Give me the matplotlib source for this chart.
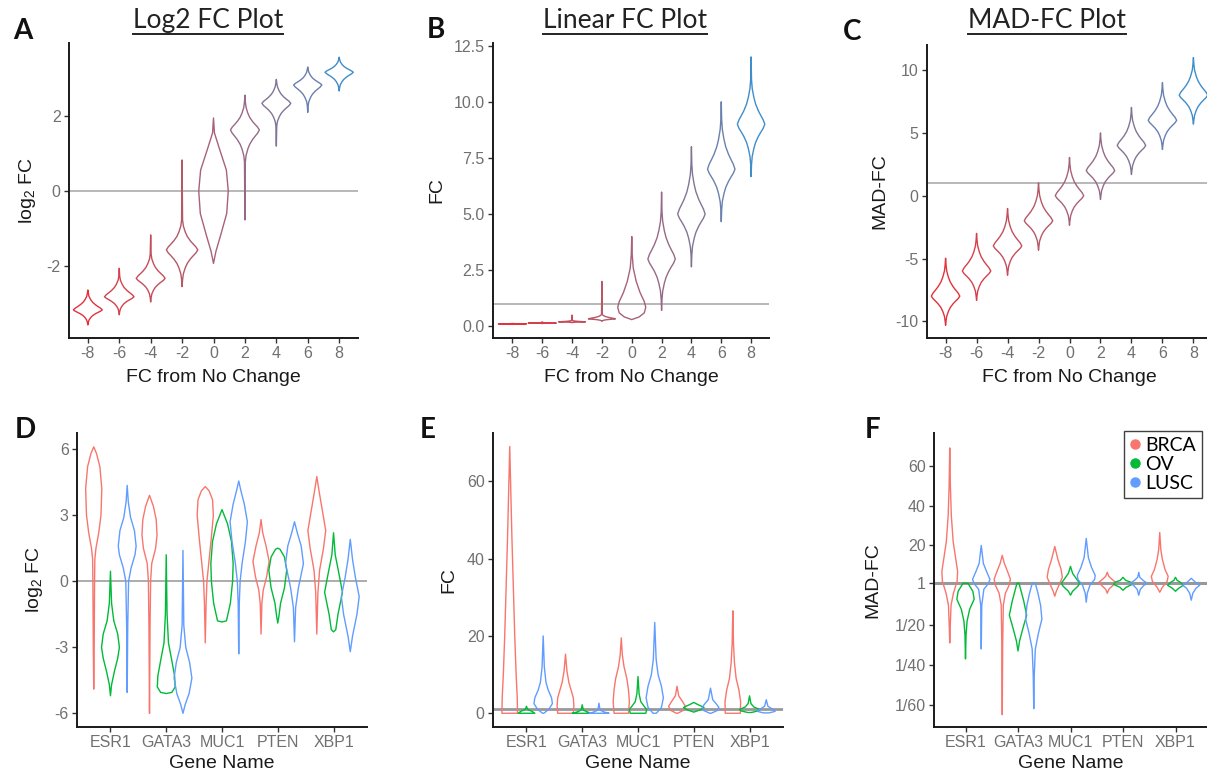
import numpy as np
import matplotlib
matplotlib.use('Agg')
import matplotlib.pyplot as plt
from matplotlib.lines import Line2D

plt.rcParams['font.family'] = ['Liberation Sans', 'DejaVu Sans']
plt.rcParams['mathtext.default'] = 'regular'
plt.rcParams['axes.unicode_minus'] = False

W, H = 1207, 775

# ---- data ----
FC_LABELS = ['-8', '-6', '-4', '-2', '0', '2', '4', '6', '8']
TOP_COLORS = ['#E2323C', '#D4414C', '#C54D5B', '#B55868', '#A8617A',
              '#966A86', '#837496', '#6A80AE', '#3F8DCA']

GENES = ['ESR1', 'GATA3', 'MUC1', 'PTEN', 'XBP1']
CANCERS = ['BRCA', 'OV', 'LUSC']
CANCER_COLORS = ['#F8766D', '#00BA38', '#619CFF']

# star shaped violins (centre, lower tip, upper tip, lower reach, upper reach, half width)
LOG2_STARS = [(-3.17, -3.57, -2.64, 0.34, 0.45, 0.46),
              (-2.82, -3.30, -2.06, 0.40, 0.55, 0.47),
              (-2.33, -2.96, -1.17, 0.52, 0.65, 0.46),
              (-1.57, -2.55, 0.83, 0.80, 0.80, 0.50),
              None,
              (1.63, -0.77, 2.56, 0.85, 0.75, 0.46),
              (2.34, 1.20, 2.98, 0.60, 0.55, 0.46),
              (2.83, 2.10, 3.31, 0.55, 0.42, 0.45),
              (3.17, 2.67, 3.57, 0.42, 0.35, 0.45)]
LIN_STARS = [(0.111, 0.100, 0.130, 0.008, 0.012, 0.47),
             (0.143, 0.125, 0.200, 0.014, 0.030, 0.47),
             (0.200, 0.160, 0.500, 0.030, 0.060, 0.45),
             (0.333, 0.220, 2.000, 0.090, 0.200, 0.45),
             None,
             (3.0, 0.71, 5.98, 1.8, 2.1, 0.46),
             (5.0, 2.65, 8.00, 1.8, 2.2, 0.46),
             (7.0, 4.66, 10.0, 1.8, 2.2, 0.46),
             (9.0, 6.67, 12.0, 1.8, 2.0, 0.46)]
MAD_STARS = [(-8, -10.32, -4.98, 2.0, 2.5, 0.46),
             (-6, -8.33, -3.00, 2.0, 2.5, 0.46),
             (-4, -6.33, -1.02, 2.0, 2.5, 0.46),
             (-2, -4.34, 1.02, 2.0, 2.5, 0.46),
             (0, -2.35, 3.04, 2.0, 2.5, 0.46),
             (2, -0.30, 5.00, 2.0, 2.5, 0.46),
             (4, 1.69, 7.03, 2.0, 2.5, 0.46),
             (6, 3.68, 9.00, 2.0, 2.5, 0.46),
             (8, 5.70, 11.0, 2.0, 2.5, 0.46)]
# the FC 0 violins of A and B are not star shaped: (value, half width)
LOG2_ZERO = [(-1.93, 0), (-1.6, 0.08), (-1.2, 0.22), (-0.6, 0.42), (0, 0.47),
             (0.56, 0.41), (1.1, 0.2), (1.55, 0.03), (1.95, 0)]
LIN_ZERO = [(0.3, 0), (0.42, 0.25), (0.6, 0.42), (0.85, 0.47), (1.1, 0.42),
            (1.5, 0.28), (2.0, 0.15), (2.6, 0.05), (3.2, 0.015), (4.0, 0)]

# relative profile of a star body
STAR_D = [0, 0.1, 0.2, 0.3, 0.45, 0.6, 0.8, 1.0]
STAR_W = [1, 0.88, 0.7, 0.53, 0.33, 0.2, 0.08, 0.03]

# gene violins, one list of (value, half width) per gene
D_BRCA = [[(-4.9, 0), (-3, 0.008), (0, 0.015), (1.0, 0.02), (1.5, 0.04), (2.2, 0.09),
           (3.0, 0.13), (4.2, 0.145), (5.2, 0.11), (5.8, 0.05), (6.1, 0)],
          [(-6, 0), (-2, 0.01), (0, 0.02), (0.8, 0.04), (1.5, 0.11), (2.1, 0.135),
           (2.8, 0.12), (3.4, 0.07), (3.9, 0)],
          [(-2.8, 0), (-1, 0.015), (0, 0.03), (1, 0.07), (2, 0.11), (3, 0.145),
           (3.7, 0.13), (4.1, 0.07), (4.3, 0)],
          [(-2.4, 0), (-1, 0.015), (-0.4, 0.04), (0.2, 0.1), (0.9, 0.145),
           (1.6, 0.09), (2.2, 0.03), (2.8, 0)],
          [(-2.4, 0), (-0.5, 0.02), (0.5, 0.05), (1.5, 0.12), (2.3, 0.16),
           (3.2, 0.1), (4.1, 0.04), (4.75, 0)]]
D_OV = [[(-5.2, 0), (-4.7, 0.02), (-4.1, 0.07), (-3.5, 0.13), (-3, 0.16),
         (-2.4, 0.13), (-1.8, 0.06), (-1, 0.02), (0.45, 0)],
        [(-5.1, 0), (-5.05, 0.1), (-4.8, 0.16), (-4.3, 0.15), (-3.6, 0.1),
         (-2.8, 0.04), (-1.5, 0.015), (1.2, 0)],
        [(-1.85, 0), (-1.8, 0.08), (-1, 0.15), (0, 0.19), (0.8, 0.2), (1.8, 0.17),
         (2.6, 0.1), (3.25, 0)],
        [(-1.9, 0), (-1.6, 0.02), (-1, 0.05), (-0.3, 0.12), (0.5, 0.16),
         (1.1, 0.12), (1.45, 0.04), (1.5, 0)],
        [(-2.3, 0), (-2.2, 0.04), (-1.5, 0.08), (-0.5, 0.16), (0.3, 0.1),
         (1.2, 0.03), (2.2, 0)]]
D_LUSC = [[(-5.05, 0), (-2, 0.01), (0, 0.025), (0.6, 0.07), (1.2, 0.14), (1.6, 0.16),
           (2.3, 0.13), (2.9, 0.06), (3.6, 0.02), (4.35, 0)],
          [(-6, 0), (-5.6, 0.04), (-5.1, 0.11), (-4.4, 0.16), (-3.7, 0.12),
           (-3, 0.05), (-2, 0.015), (1.4, 0)],
          [(-3.3, 0), (-1, 0.01), (0, 0.025), (0.8, 0.06), (1.8, 0.12), (2.7, 0.155),
           (3.5, 0.1), (4.1, 0.04), (4.55, 0)],
          [(-2.75, 0), (-1.2, 0.02), (-0.3, 0.07), (0.8, 0.16), (1.6, 0.12),
           (2.2, 0.05), (2.7, 0)],
          [(-3.2, 0), (-2.5, 0.04), (-1.5, 0.12), (-0.7, 0.16), (0.2, 0.09),
           (1, 0.04), (1.9, 0)]]

E_BRCA = [[(0, 0.14), (4, 0.135), (10, 0.115), (20, 0.09), (30, 0.07), (45, 0.04),
           (60, 0.015), (69, 0)],
          [(0, 0.14), (2, 0.15), (4, 0.14), (6, 0.1), (8, 0.06), (11, 0.025), (15.3, 0)],
          [(0, 0.13), (3, 0.145), (6, 0.13), (9, 0.1), (12, 0.05), (15, 0.02), (19.5, 0)],
          [(0, 0.01), (0.8, 0.12), (1.8, 0.15), (3, 0.1), (4.5, 0.03), (7, 0)],
          [(0, 0.135), (3, 0.14), (6, 0.11), (9, 0.06), (13, 0.03), (18, 0.012), (26.5, 0)]]
E_OV = [[(0, 0.15), (0.5, 0.1), (1, 0.02), (1.8, 0)],
        [(0, 0.18), (0.3, 0.1), (0.8, 0.02), (2.2, 0)],
        [(0, 0.14), (1, 0.155), (2, 0.1), (3, 0.05), (5, 0.02), (9.5, 0)],
        [(0.3, 0), (0.9, 0.12), (1.5, 0.185), (2.2, 0.08), (2.8, 0)],
        [(0.2, 0.03), (0.6, 0.15), (1.0, 0.18), (1.6, 0.08), (2.5, 0.025), (4.5, 0)]]
E_LUSC = [[(0, 0.01), (1, 0.1), (2.5, 0.165), (4, 0.15), (6, 0.09), (8, 0.05),
           (12, 0.02), (20, 0)],
          [(0, 0.18), (0.3, 0.1), (0.8, 0.02), (2.6, 0)],
          [(0, 0.03), (1.5, 0.12), (4, 0.155), (7, 0.12), (10, 0.06), (14, 0.025), (23.5, 0)],
          [(0, 0.01), (0.7, 0.12), (1.5, 0.15), (2.5, 0.1), (3.5, 0.04), (6.5, 0)],
          [(0.1, 0.05), (0.5, 0.16), (1, 0.12), (1.8, 0.03), (3.5, 0)]]

F_BRCA = [[(-29, 0), (-20, 0.01), (-10, 0.025), (-4, 0.07), (2, 0.14), (7, 0.15),
           (14, 0.11), (22, 0.065), (35, 0.03), (50, 0.012), (69, 0)],
          [(-65, 0), (-30, 0.008), (-10, 0.02), (-4, 0.06), (0, 0.13), (3, 0.155),
           (7, 0.1), (11, 0.04), (15, 0)],
          [(-5.5, 0), (-3, 0.03), (0, 0.08), (4, 0.145), (8, 0.12), (13, 0.06), (19.5, 0)],
          [(-4, 0), (-2, 0.03), (0, 0.11), (1.5, 0.16), (3, 0.09), (4.5, 0.03), (6.5, 0)],
          [(-3.5, 0), (-1, 0.05), (2, 0.14), (4.5, 0.16), (8, 0.1), (13, 0.05),
           (18, 0.02), (26.5, 0)]]
F_OV = [[(-37, 0), (-25, 0.01), (-18, 0.03), (-12, 0.08), (-7, 0.165), (-3, 0.14),
         (0, 0.07), (1, 0.05)],
        [(-33, 0), (-28, 0.03), (-22, 0.09), (-15, 0.165), (-8, 0.11), (-2, 0.05), (1, 0.02)],
        [(-5, 0), (-3, 0.04), (-0.5, 0.14), (1, 0.175), (3, 0.12), (6, 0.04), (9.5, 0)],
        [(-2.5, 0), (-1, 0.06), (0.5, 0.18), (1.5, 0.15), (2.5, 0.05), (4, 0)],
        [(-3, 0), (-1.5, 0.06), (0, 0.15), (1.5, 0.09), (2.5, 0.03), (4, 0)]]
F_LUSC = [[(-32, 0), (-10, 0.01), (-2, 0.05), (1, 0.14), (3, 0.165), (7, 0.1),
           (11, 0.04), (20, 0)],
          [(-62, 0), (-45, 0.01), (-32, 0.03), (-24, 0.09), (-17, 0.155), (-10, 0.13),
           (-4, 0.08), (0, 0.04), (1, 0.02)],
          [(-8.5, 0), (-4, 0.02), (0, 0.07), (3, 0.16), (5, 0.17), (9, 0.1), (14, 0.04),
           (23.5, 0)],
          [(-5, 0), (-2, 0.03), (0, 0.1), (1, 0.16), (2.5, 0.08), (4, 0.02), (6.5, 0)],
          [(-7.5, 0), (-4, 0.03), (-1.5, 0.09), (0, 0.16), (1.5, 0.08), (3.5, 0)]]


def star(c, lo, hi, r_lo, r_hi, half):
    ys = [lo] + [c - d * r_lo for d in STAR_D[:0:-1]] + [c + d * r_hi for d in STAR_D] + [hi]
    ws = [0] + [half * w for w in STAR_W[:0:-1]] + [half * w for w in STAR_W] + [0]
    return list(zip(ys, ws))


def violins(ax, shapes, positions, colors, lw=1.0):
    stats = []
    for kn in shapes:
        ys = np.array([k[0] for k in kn], dtype=float)
        ws = np.array([k[1] for k in kn], dtype=float)
        stats.append({'coords': ys, 'vals': ws, 'mean': ys.mean(),
                      'median': np.median(ys), 'min': ys.min(), 'max': ys.max()})
    widths = [2 * max(k[1] for k in kn) for kn in shapes]
    parts = ax.violin(stats, positions=positions, widths=widths,
                      showmeans=False, showextrema=False, showmedians=False)
    for body, col in zip(parts['bodies'], colors):
        body.set_alpha(1.0)
        body.set_facecolor('none')
        body.set_edgecolor(col)
        body.set_linewidth(lw)


def make_axes(rect_px):
    l, t, r, b = rect_px
    return fig.add_axes([l / W, 1 - b / H, (r - l) / W, (b - t) / H])


def style(ax, xlim, ylim, xticks, xlabels, yticks, ylabels, xlab, ylab, ylab_px, xlab_px):
    ax.set_xlim(*xlim)
    ax.set_ylim(*ylim)
    ax.set_xticks(xticks)
    ax.set_xticklabels(xlabels)
    ax.set_yticks(yticks)
    ax.set_yticklabels(ylabels)
    for s in ['top', 'right']:
        ax.spines[s].set_visible(False)
    for s in ['left', 'bottom']:
        ax.spines[s].set_linewidth(1.4)
        ax.spines[s].set_color('#1a1a1a')
    ax.tick_params(length=3.5, width=1.0, color='#333333', labelsize=11.5,
                   labelcolor='#707070', pad=2.5)
    ax.set_xlabel(xlab, fontsize=14, color='#1a1a1a')
    ax.set_ylabel(ylab, fontsize=14, color='#1a1a1a')
    bb = ax.get_position()
    ax.yaxis.set_label_coords(ylab_px / (bb.width * W), 0.5)
    ax.xaxis.set_label_coords(0.5, -xlab_px / (bb.height * H))
    ax.yaxis.label.set_verticalalignment('center')
    ax.xaxis.label.set_verticalalignment('center')


fig = plt.figure(figsize=(W / 100, H / 100), dpi=100)

top_pos = list(range(1, 10))

# ---- A ----
axA = make_axes((69, 43, 358, 338))
axA.axhline(0, color='#ABABAB', lw=1.2, zorder=0.5)
shapesA = [LOG2_ZERO if s is None else star(*s) for s in LOG2_STARS]
violins(axA, shapesA, top_pos, TOP_COLORS)
style(axA, (0.4, 9.6), (-3.92, 3.95), top_pos, FC_LABELS, [-2, 0, 2], ['-2', '0', '2'],
      'FC from No Change', 'log$_2$ FC', -41, 40)

# ---- B ----
axB = make_axes((493, 43, 769, 338))
axB.axhline(1, color='#ABABAB', lw=1.2, zorder=0.5)
shapesB = [LIN_ZERO if s is None else star(*s) for s in LIN_STARS]
violins(axB, shapesB, top_pos, TOP_COLORS)
style(axB, (0.35, 9.6), (-0.52, 12.62), top_pos, FC_LABELS,
      [0, 2.5, 5, 7.5, 10, 12.5], ['0.0', '2.5', '5.0', '7.5', '10.0', '12.5'],
      'FC from No Change', 'FC', -56, 40)

# ---- C ----
axC = make_axes((927, 45, 1212, 338))
axC.axhline(1, color='#ABABAB', lw=1.2, zorder=0.5)
violins(axC, [star(*s) for s in MAD_STARS], top_pos, TOP_COLORS)
style(axC, (0.4, 9.6), (-11.33, 12.0), top_pos, FC_LABELS,
      [-10, -5, 0, 5, 10], ['-10', '-5', '0', '5', '10'],
      'FC from No Change', 'MAD-FC', -47, 40)

# ---- bottom row ----
OFFSETS = [-0.3, 0.0, 0.3]
gene_pos = list(range(1, 6))


def gene_violins(ax, groups, lw=1.0):
    for off, col, shapes in zip(OFFSETS, CANCER_COLORS, groups):
        violins(ax, shapes, [g + off for g in gene_pos], [col] * len(shapes), lw)


axD = make_axes((77, 433, 367, 727))
axD.axhline(0, color='#A6A6A6', lw=1.3, zorder=0.5)
gene_violins(axD, [D_BRCA, D_OV, D_LUSC])
style(axD, (0.4, 5.6), (-6.62, 6.73), gene_pos, GENES,
      [-6, -3, 0, 3, 6], ['-6', '-3', '0', '3', '6'],
      'Gene Name', 'log$_2$ FC', -43, 37)

axE = make_axes((493, 433, 783, 727))
axE.axhline(1, color='#999999', lw=2.0, zorder=0.5)
gene_violins(axE, [E_BRCA, E_OV, E_LUSC])
style(axE, (0.4, 5.6), (-3.55, 72.5), gene_pos, GENES,
      [0, 20, 40, 60], ['0', '20', '40', '60'],
      'Gene Name', 'FC', -44, 37)

axF = make_axes((934, 433, 1207, 727))
axF.axhline(1, color='#999999', lw=2.2, zorder=0.5)
gene_violins(axF, [F_BRCA, F_OV, F_LUSC])
style(axF, (0.4, 5.6), (-71.2, 76.5), gene_pos, GENES,
      [-60, -40, -20, 1, 20, 40, 60], ['1/60', '1/40', '1/20', '1', '20', '40', '60'],
      'Gene Name', 'MAD-FC', -61, 37)

handles = [Line2D([], [], marker='o', ls='none', color=c, markersize=6.5) for c in CANCER_COLORS]
leg = axF.legend(handles, CANCERS, loc='upper left', bbox_to_anchor=(1124 / W, 1 - 431 / H),
                 bbox_transform=fig.transFigure, frameon=True, fancybox=False,
                 edgecolor='#111111', prop={'family': ['Lato', 'DejaVu Sans'], 'size': 14},
                 handlelength=0.5, handletextpad=0.3, labelspacing=0.1,
                 borderpad=0.3, borderaxespad=0)
leg.get_frame().set_linewidth(1.0)

# ---- panel letters and titles ----
LETTERS = [('A', 13, 39), ('B', 427, 38), ('C', 843, 40),
           ('D', 15, 438), ('E', 420, 438), ('F', 865, 438)]
for txt, x, y in LETTERS:
    fig.text(x / W, 1 - y / H, txt, fontsize=20, fontweight='bold',
             family=['Lato', 'DejaVu Sans'], ha='left', va='baseline', color='#111111')

TITLES = [('Log2 FC Plot', 208), ('Linear FC Plot', 625), ('MAD-FC Plot', 1047)]
title_artists = []
for txt, x in TITLES:
    title_artists.append(fig.text(x / W, 1 - 28 / H, txt, fontsize=19,
                                  family=['Lato', 'DejaVu Sans'], ha='center',
                                  va='baseline', color='#222222'))

fig.canvas.draw()
inv = fig.transFigure.inverted()
for t in title_artists:
    bb = t.get_window_extent().transformed(inv)
    fig.add_artist(Line2D([bb.x0, bb.x1], [1 - 34 / H] * 2, transform=fig.transFigure,
                          color='#222222', lw=1.4))

fig.savefig('out.png', dpi=100)
